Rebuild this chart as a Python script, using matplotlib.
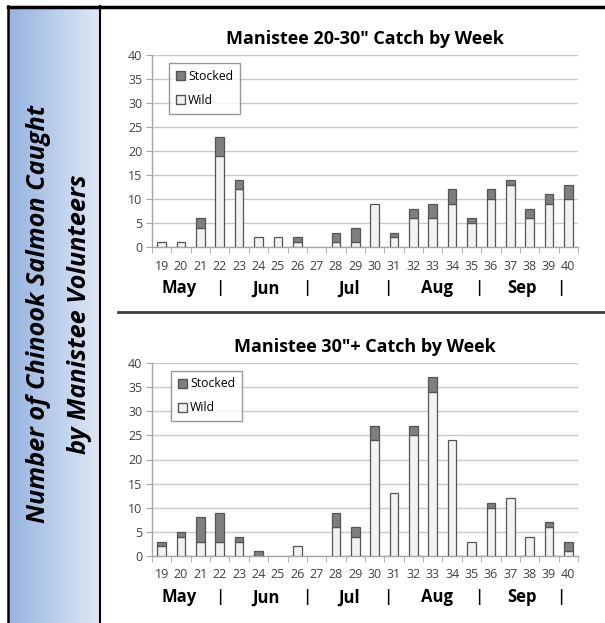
import matplotlib.pyplot as plt
import numpy as np
from matplotlib.colors import LinearSegmentedColormap
from matplotlib.patches import Patch

weeks = [str(w) for w in range(19, 41)]

# 20-30 inch fish
wild_small = [1, 1, 4, 19, 12, 2, 2, 1, 0, 1, 1, 9, 2, 6, 6, 9, 5, 10, 13, 6, 9, 10]
stocked_small = [0, 0, 2, 4, 2, 0, 0, 1, 0, 2, 3, 0, 1, 2, 3, 3, 1, 2, 1, 2, 2, 3]

# 30+ inch fish
wild_big = [2, 4, 3, 3, 3, 0, 0, 2, 0, 6, 4, 24, 13, 25, 34, 24, 3, 10, 12, 4, 6, 1]
stocked_big = [1, 1, 5, 6, 1, 1, 0, 0, 0, 3, 2, 3, 0, 2, 3, 0, 0, 1, 0, 0, 1, 2]

months = ['May', '|', 'Jun', '|', 'Jul', '|', 'Aug', '|', 'Sep', '|']
month_pos = [0.9, 3.0, 5.4, 7.5, 9.7, 11.7, 14.2, 16.4, 18.6, 20.6]

W, H = 605, 623
fig = plt.figure(figsize=(W / 100, H / 100), dpi=100)
fig.patch.set_facecolor('white')

plt.rcParams['font.family'] = ['Open Sans', 'DejaVu Sans']

# left gradient panel (pixel coords x 8..100, y 7..623)
bg = fig.add_axes([8 / W, 0, 92 / W, (H - 7) / H])
cmap = LinearSegmentedColormap.from_list('blu', ['#95b3e0', '#dfe8f5'])
bg.imshow(np.linspace(0, 1, 200).reshape(1, -1), cmap=cmap, aspect='auto', extent=[8, 100, 0, 1])
bg.set_xlim(8, 100)
bg.set_ylim(0, 1)
bg.axis('off')
y_mid = (H - 314) / (H - 7)
bg.text(45, y_mid, 'Number of Chinook Salmon Caught', rotation=90, rotation_mode='anchor',
        ha='center', va='baseline', fontsize=18.2, fontweight='bold', fontstyle='italic')
bg.text(86, y_mid, 'by Manistee Volunteers', rotation=90, rotation_mode='anchor',
        ha='center', va='baseline', fontsize=18.2, fontweight='bold', fontstyle='italic')


def pix_axes(x0, y_top, x1, y_bot):
    return fig.add_axes([x0 / W, (H - y_bot) / H, (x1 - x0) / W, (y_bot - y_top) / H])


def edges(vals):
    return ['#555555' if v > 0 else 'none' for v in vals]


def draw_chart(ax, wild, stocked, title, leg_anchor):
    x = np.arange(len(weeks))
    ax.bar(x, wild, width=0.45, color='#f2f2f2', edgecolor=edges(wild), linewidth=0.9,
           label='Wild', zorder=3)
    ax.bar(x, stocked, width=0.45, bottom=wild, color='#7f7f7f', edgecolor=edges(stocked),
           linewidth=0.9, label='Stocked', zorder=3)
    ax.set_xlim(-0.5, len(weeks) - 0.5)
    ax.set_ylim(0, 40)
    ax.set_yticks(range(0, 41, 5))
    ax.yaxis.grid(True, color='#c8c8c8', linewidth=1.0, zorder=0)
    ax.set_axisbelow(True)
    for s in ['top', 'right']:
        ax.spines[s].set_visible(False)
    for s in ['left', 'bottom']:
        ax.spines[s].set_color('#a6a6a6')
        ax.spines[s].set_linewidth(1.0)
    ax.set_xticks(x)
    ax.set_xticklabels(weeks)
    ax.set_xticks(np.arange(-0.5, len(weeks), 1), minor=True)
    ax.tick_params(axis='x', which='major', length=0, pad=9, labelsize=9, labelcolor='#404040')
    ax.tick_params(axis='x', which='minor', length=4, color='#a6a6a6', direction='out')
    ax.tick_params(axis='y', length=4, color='#a6a6a6', labelsize=9, labelcolor='#404040', pad=3)
    ax.set_title(title, fontsize=13, fontweight='bold', pad=8)
    for m, p in zip(months, month_pos):
        ax.text(p, -0.215, m, transform=ax.get_xaxis_transform(), ha='center', va='center',
                fontsize=12, fontweight='semibold' if m == '|' else 'bold')
    handles = [Patch(facecolor='#7f7f7f', edgecolor='#555555', label='Stocked'),
               Patch(facecolor='#f2f2f2', edgecolor='#555555', label='Wild')]
    leg = ax.legend(handles=handles, loc='upper left', bbox_to_anchor=leg_anchor, fontsize=8.8,
                    fancybox=False, frameon=True, edgecolor='#808080', handlelength=0.75,
                    handleheight=0.75, handletextpad=0.25, labelspacing=0.9, borderpad=0.55,
                    borderaxespad=0)
    leg.get_frame().set_linewidth(1.0)


ax1 = pix_axes(152, 55, 578, 247)
draw_chart(ax1, wild_small, stocked_small, 'Manistee 20-30" Catch by Week', (0.04, 0.958))

ax2 = pix_axes(152, 363, 578, 556)
draw_chart(ax2, wild_big, stocked_big, 'Manistee 30"+ Catch by Week', (0.045, 0.96))

# frame lines
fig.add_artist(plt.Line2D([8 / W, 1], [(H - 6.5) / H, (H - 6.5) / H], transform=fig.transFigure,
                          color='black', linewidth=2.5))
fig.add_artist(plt.Line2D([8 / W, 8 / W], [0, (H - 6) / H], transform=fig.transFigure,
                          color='black', linewidth=1.8))
fig.add_artist(plt.Line2D([100 / W, 100 / W], [0, (H - 6) / H], transform=fig.transFigure,
                          color='black', linewidth=1.5))
fig.add_artist(plt.Line2D([118 / W, 1], [(H - 312) / H, (H - 312) / H], transform=fig.transFigure,
                          color='#404040', linewidth=2))

fig.savefig('out.png', dpi=100)
